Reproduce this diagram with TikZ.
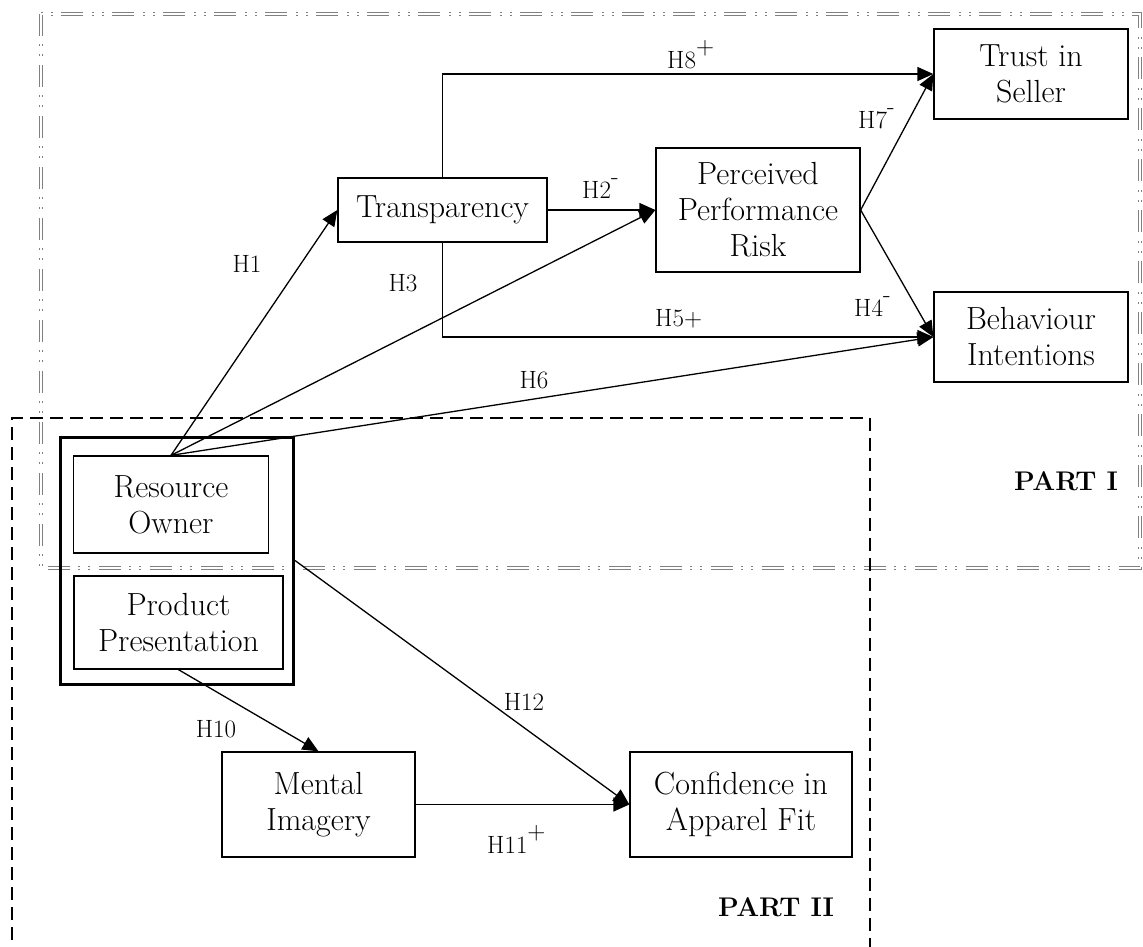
\documentclass[tikz,border=0pt]{standalone}
\usepackage{fontspec}
\usetikzlibrary{arrows.meta}
\newcommand\hsup[1]{\raisebox{0.55em}{#1}}
\begin{document}
\begin{tikzpicture}[x=1pt,y=-1pt,
  box/.style={draw,line width=1.3pt,inner sep=0pt,align=center,font=\fontsize{32}{36}\selectfont},
  conn/.style={line width=1.3pt,-{Triangle[length=16pt,width=14pt]}},
  lab/.style={font=\fontsize{25}{28}\selectfont,inner sep=0pt},
  part/.style={font=\bfseries\fontsize{27}{30}\selectfont,inner sep=0pt},
  partone/.style={draw=gray,double=white,double distance=1.6pt,line width=0.9pt,dash pattern=on 22pt off 8pt on 2pt off 8pt on 2pt off 9pt},
  parttwo/.style={draw=black,line width=2.5pt,dash pattern=on 13pt off 7pt}
]
\useasboundingbox (0,0) rectangle (1143,946);
% part frames
\draw[partone] (41,14) rectangle (1140,568);
\draw[parttwo] (12,960) -- (12,418) -- (870,418) -- (870,960);

% nodes
\node[box,minimum width=194pt,minimum height=90pt] (trust) at (1031,74) {Trust in\\Seller};
\node[box,minimum width=194pt,minimum height=90pt] (behav) at (1031,337) {Behaviour\\Intentions};
\node[box,minimum width=209pt,minimum height=64pt] (transp) at (442.5,210) {Transparency};
\node[box,minimum width=204pt,minimum height=124pt] (ppr) at (758,210) {Perceived\\Performance\\Risk};
\node[draw,line width=3pt,inner sep=0pt,minimum width=233pt,minimum height=247pt] (outer) at (177,560.5) {};
\node[box,minimum width=195pt,minimum height=97pt] (ro) at (171,504.5) {Resource\\Owner};
\node[box,minimum width=209pt,minimum height=93pt] (pp) at (178.5,622.5) {Product\\Presentation};
\node[box,minimum width=193pt,minimum height=105pt] (mental) at (318.5,804.5) {Mental\\Imagery};
\node[box,minimum width=222pt,minimum height=105pt] (conf) at (741,804.5) {Confidence in\\Apparel Fit};

% connectors
\draw[conn] (ro.north) -- (transp.west);
\draw[conn] (ro.north) -- (ppr.west);
\draw[conn] (ro.north) -- (behav.west);
\draw[conn] (transp.east) -- (ppr.west);
\draw[conn] (transp.north) |- (trust.west);
\draw[conn] (transp.south) |- (behav.west);
\draw[conn] (ppr.east) -- (trust.west);
\draw[conn] (ppr.east) -- (behav.west);
\draw[conn] (pp.south) -- (mental.north);
\draw[conn] (mental.east) -- (conf.west);
\draw[conn] (outer.east) -- (conf.west);

% labels
\node[lab] (l1) at (247,264) {H1};
\node[lab] (l3) at (403,283) {H3};
\node[lab] (l6) at (534,380) {H6};
\node[lab] (l10) at (216,729) {H10};
\node[lab] (l12) at (524,702) {H12};
\node[lab,anchor=base west] (l2) at (582,198) {H2\hsup{-}};
\node[lab,anchor=base west] (l7) at (858,128) {H7\hsup{-}};
\node[lab,anchor=base west] (l4) at (854,316) {H4\hsup{-}};
\node[lab,anchor=base west] (l8) at (667,68) {H8\hsup{+}};
\node[lab,anchor=base west] (l11) at (487,853) {H11\hsup{+}};
\node[lab,anchor=base west] (l5) at (655,326) {H5+};

\node[part] (p1) at (1066,481) {PART I};
\node[part] (p2) at (776,907) {PART II};
\end{tikzpicture}
\end{document}
